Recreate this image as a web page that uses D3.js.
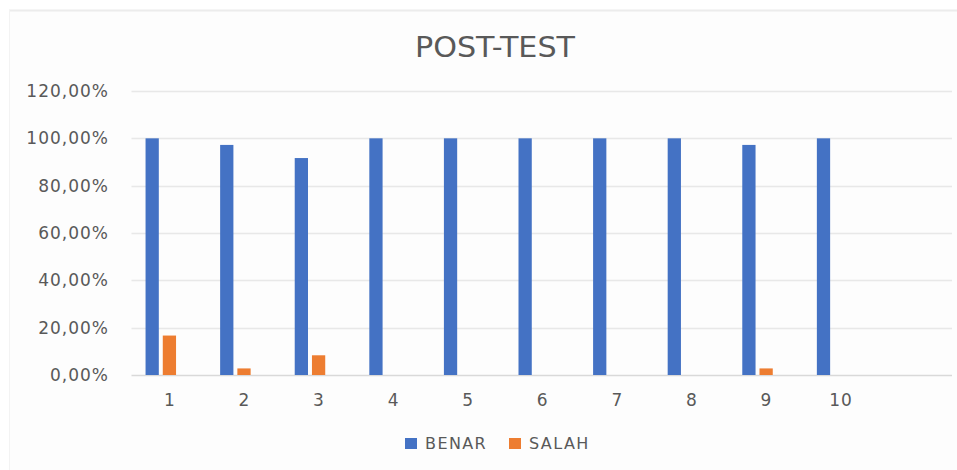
<!DOCTYPE html>
<html><head><meta charset="utf-8">
<script src="https://cdn.jsdelivr.net/npm/d3@7"></script>
<style>
html,body{margin:0;padding:0;background:#fff;}
svg{display:block;}
text{font-family:"DejaVu Sans",sans-serif;fill:#595959;}
</style></head>
<body>
<svg id="chart" width="957" height="470"></svg>
<script>
const categories = ["1","2","3","4","5","6","7","8","9","10",""];
const seriesNames = ["BENAR","SALAH"];
const benar = [1.00,0.9722,0.9167,1.00,1.00,1.00,1.00,1.00,0.9722,1.00];
const salah = [0.1667,0.0278,0.0833,0,0,0,0,0,0.0278,0];
const yTicks = [0,0.2,0.4,0.6,0.8,1.0,1.2];
const colors = ["#4472C4","#ED7D31"];
const title = "POST-TEST";

const svg = d3.select("#chart");
// chart frame
svg.append("rect").attr("x",9).attr("y",10).attr("width",948).attr("height",460)
  .attr("fill","#fdfdfd");
svg.append("line").attr("x1",9).attr("x2",957).attr("y1",10.5).attr("y2",10.5)
  .attr("stroke","#ececec").attr("stroke-width",2);
svg.append("line").attr("x1",9.5).attr("x2",9.5).attr("y1",10).attr("y2",470)
  .attr("stroke","#f3f3f3").attr("stroke-width",1);

const x = d3.scaleBand().domain(categories).range([131.5,952]).padding(0);
const y = d3.scaleLinear().domain([0,1.2]).range([375,91]);
const inner = d3.scaleBand().domain(seriesNames).range([0,30.5]).paddingInner(0.23);
const groupShift = -8;

// gridlines
svg.append("g").selectAll("line").data(yTicks).join("line")
  .attr("x1",x.range()[0]).attr("x2",x.range()[1])
  .attr("y1",d=>Math.round(y(d))+0.5).attr("y2",d=>Math.round(y(d))+0.5)
  .attr("stroke",d=>d===0?"#d9d9d9":"#e8e8e8").attr("stroke-width",1.5);

// y axis labels
const yAxis = d3.axisLeft(y).tickValues(yTicks)
  .tickFormat(d=>d3.format(".2f")(d*100).replace(".",",")+"%").tickSize(0).tickPadding(0);
const yg = svg.append("g").attr("transform","translate(109,0)").call(yAxis);
yg.select(".domain").remove();
yg.selectAll("text").attr("font-size",17).attr("letter-spacing","1px")
  .attr("font-family","DejaVu Sans").attr("fill","#595959");

// x axis labels
const xAxis = d3.axisBottom(x).tickSize(0).tickPadding(0);
const xg = svg.append("g").attr("transform","translate(1,394)").call(xAxis);
xg.select(".domain").remove();
xg.selectAll("text").attr("font-size",17).attr("letter-spacing","1px")
  .attr("font-family","DejaVu Sans").attr("fill","#595959");

// bars
const data = categories.slice(0,10).map((c,i)=>({c, vals:[benar[i],salah[i]]}));
const groups = svg.append("g").selectAll("g").data(data).join("g")
  .attr("transform",d=>`translate(${x(d.c)+x.bandwidth()/2 - 15.25 + groupShift},0)`);
groups.selectAll("rect").data(d=>d.vals.map((v,k)=>({k,v}))).join("rect")
  .attr("x",d=>inner(seriesNames[d.k]))
  .attr("width",inner.bandwidth())
  .attr("y",d=>y(d.v))
  .attr("height",d=>y(0)-y(d.v))
  .attr("fill",d=>colors[d.k]);

// title
svg.append("text").attr("x",495).attr("y",57).attr("text-anchor","middle")
  .attr("font-family","Liberation Sans, sans-serif")
  .attr("font-size",28).attr("fill","#595959")
  .attr("textLength",160).attr("lengthAdjust","spacingAndGlyphs")
  .text(title);

// legend
const legendX = [405,509];
const lg = svg.append("g").selectAll("g").data(seriesNames).join("g")
  .attr("transform",(d,i)=>`translate(${legendX[i]},438)`);
lg.append("rect").attr("width",12).attr("height",11).attr("fill",(d,i)=>colors[i]);
lg.append("text").attr("x",20).attr("y",11).attr("font-size",16)
  .attr("letter-spacing","1.4px").attr("fill","#595959").text(d=>d);
</script>
</body></html>
